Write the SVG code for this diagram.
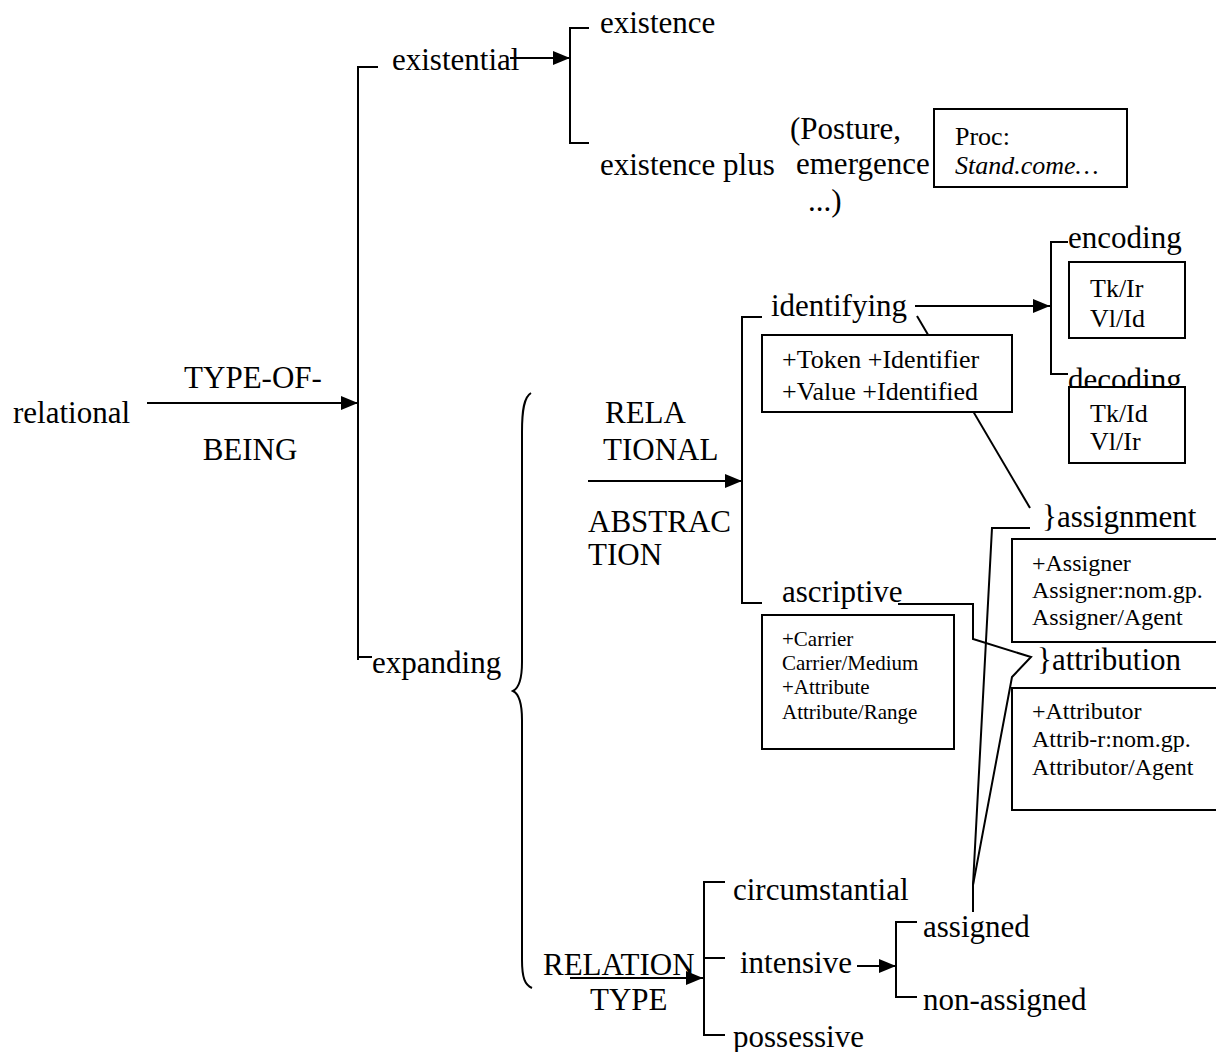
<svg xmlns="http://www.w3.org/2000/svg" width="1216" height="1052" viewBox="0 0 1216 1052">
  <style>
    text { font-family: "Liberation Serif", "Times New Roman", serif; fill: #000; }
    .t { font-size: 31px; }
    .m { font-size: 26px; }
    .s { font-size: 24px; }
    .xs { font-size: 21px; }
    .ln { stroke: #000; stroke-width: 2; fill: none; }
    .box { stroke: #000; stroke-width: 2; fill: #fff; }
  </style>
  <defs>
    <marker id="arrow" markerUnits="userSpaceOnUse" markerWidth="18" markerHeight="14" refX="17" refY="7" orient="auto">
      <path d="M0,0 L17,7 L0,14 Z" fill="#000"/>
    </marker>
  </defs>
  <rect width="1216" height="1052" fill="#fff"/>

  <!-- connectors: brackets, arrows and cross links -->
  <g id="connectors">
    <!-- relational -> type-of-being -->
    <line class="ln" x1="147" y1="403" x2="358" y2="403" marker-end="url(#arrow)"/>
    <polyline class="ln" points="378,67 358,67 358,660"/>
    <line class="ln" x1="358" y1="657" x2="372" y2="657"/>
    <!-- existential -> existence / existence plus -->
    <line class="ln" x1="510" y1="58" x2="570" y2="58" marker-end="url(#arrow)"/>
    <polyline class="ln" points="589,28 570,28 570,143 589,143"/>
    <!-- expanding brace -->
    <path class="ln" d="M531,393 C524,397 522,410 522,432 L522,662 C522,680 519,688 513,691 C519,694 522,702 522,720 L522,960 C522,978 525,985 532,988"/>
    <!-- relational abstraction -->
    <line class="ln" x1="588" y1="481" x2="742" y2="481" marker-end="url(#arrow)"/>
    <polyline class="ln" points="762,317 742,317 742,603 762,603"/>
    <!-- identifying -> encoding / decoding -->
    <line class="ln" x1="915" y1="306" x2="1050" y2="306" marker-end="url(#arrow)"/>
    <polyline class="ln" points="1068,242 1051,242 1051,374 1068,374"/>
    <!-- identifying -> assignment -->
    <line class="ln" x1="917" y1="316" x2="1030" y2="508"/>
    <!-- ascriptive -> attribution -->
    <polyline class="ln" points="898,604 973,604 973,639 1031,657 1012,677 973,885 973,912"/>
    <!-- assignment -> assigned -->
    <polyline class="ln" points="1030,528 992,528 973,885"/>
    <!-- relation type -->
    <line class="ln" x1="570" y1="978" x2="703" y2="978" marker-end="url(#arrow)"/>
    <polyline class="ln" points="725,882 704,882 704,1035 725,1035"/>
    <line class="ln" x1="704" y1="958" x2="725" y2="958"/>
    <!-- intensive -> assigned / non-assigned -->
    <line class="ln" x1="857" y1="966" x2="896" y2="966" marker-end="url(#arrow)"/>
    <polyline class="ln" points="917,922 896,922 896,997 917,997"/>
  </g>

  <g id="n-relational"><text class="t" x="13" y="423">relational</text></g>
  <g id="n-type-of-being">
    <text class="t" x="253" y="388" text-anchor="middle">TYPE-OF-</text>
    <text class="t" x="250" y="460" text-anchor="middle">BEING</text>
  </g>
  <g id="n-existential"><text class="t" x="392" y="70">existential</text></g>
  <g id="n-existence"><text class="t" x="600" y="33">existence</text></g>
  <g id="n-existence-plus">
    <text class="t" x="600" y="175">existence plus</text>
    <text class="t" x="790" y="139">(Posture,</text>
    <text class="t" x="796" y="174">emergence</text>
    <text class="t" x="808" y="211">...)</text>
  </g>
  <g id="n-proc">
    <rect class="box" x="934" y="109" width="193" height="78"/>
    <text class="m" x="955" y="145">Proc:</text>
    <text class="m" x="955" y="174" font-style="italic">Stand.come…</text>
  </g>
  <g id="n-expanding"><text class="t" x="372" y="673">expanding</text></g>
  <g id="n-relational-abstraction">
    <text class="t" x="605" y="423">RELA</text>
    <text class="t" x="603" y="460">TIONAL</text>
    <text class="t" x="588" y="532">ABSTRAC</text>
    <text class="t" x="588" y="565">TION</text>
  </g>
  <g id="n-identifying">
    <text class="t" x="771" y="316">identifying</text>
    <rect class="box" x="762" y="335" width="250" height="77"/>
    <text class="m" x="782" y="368">+Token +Identifier</text>
    <text class="m" x="782" y="400">+Value +Identified</text>
  </g>
  <g id="n-encoding">
    <text class="t" x="1068" y="248">encoding</text>
    <rect class="box" x="1069" y="262" width="116" height="76"/>
    <text class="m" x="1090" y="297">Tk/Ir</text>
    <text class="m" x="1090" y="327">Vl/Id</text>
  </g>
  <g id="n-decoding">
    <text class="t" x="1068" y="390">decoding</text>
    <rect class="box" x="1069" y="387" width="116" height="76"/>
    <text class="m" x="1090" y="422">Tk/Id</text>
    <text class="m" x="1090" y="450">Vl/Ir</text>
  </g>
  <g id="n-ascriptive">
    <text class="t" x="782" y="602">ascriptive</text>
    <rect class="box" x="762" y="615" width="192" height="134"/>
    <text class="xs" x="782" y="646">+Carrier</text>
    <text class="xs" x="782" y="670">Carrier/Medium</text>
    <text class="xs" x="782" y="694">+Attribute</text>
    <text class="xs" x="782" y="719">Attribute/Range</text>
  </g>
  <g id="n-assignment">
    <text class="t" x="1042" y="527">}assignment</text>
    <rect class="box" x="1012" y="539" width="220" height="103"/>
    <text class="s" x="1032" y="571">+Assigner</text>
    <text class="s" x="1032" y="598">Assigner:nom.gp.</text>
    <text class="s" x="1032" y="625">Assigner/Agent</text>
  </g>
  <g id="n-attribution">
    <text class="t" x="1037" y="670">}attribution</text>
    <rect class="box" x="1012" y="688" width="220" height="122"/>
    <text class="s" x="1032" y="719">+Attributor</text>
    <text class="s" x="1032" y="747">Attrib-r:nom.gp.</text>
    <text class="s" x="1032" y="775">Attributor/Agent</text>
  </g>
  <g id="n-relation-type">
    <text class="t" x="543" y="975">RELATION</text>
    <text class="t" x="590" y="1010">TYPE</text>
  </g>
  <g id="n-circumstantial"><text class="t" x="733" y="900">circumstantial</text></g>
  <g id="n-intensive"><text class="t" x="740" y="973">intensive</text></g>
  <g id="n-possessive"><text class="t" x="733" y="1047">possessive</text></g>
  <g id="n-assigned"><text class="t" x="923" y="937">assigned</text></g>
  <g id="n-non-assigned"><text class="t" x="923" y="1010">non-assigned</text></g>
</svg>
